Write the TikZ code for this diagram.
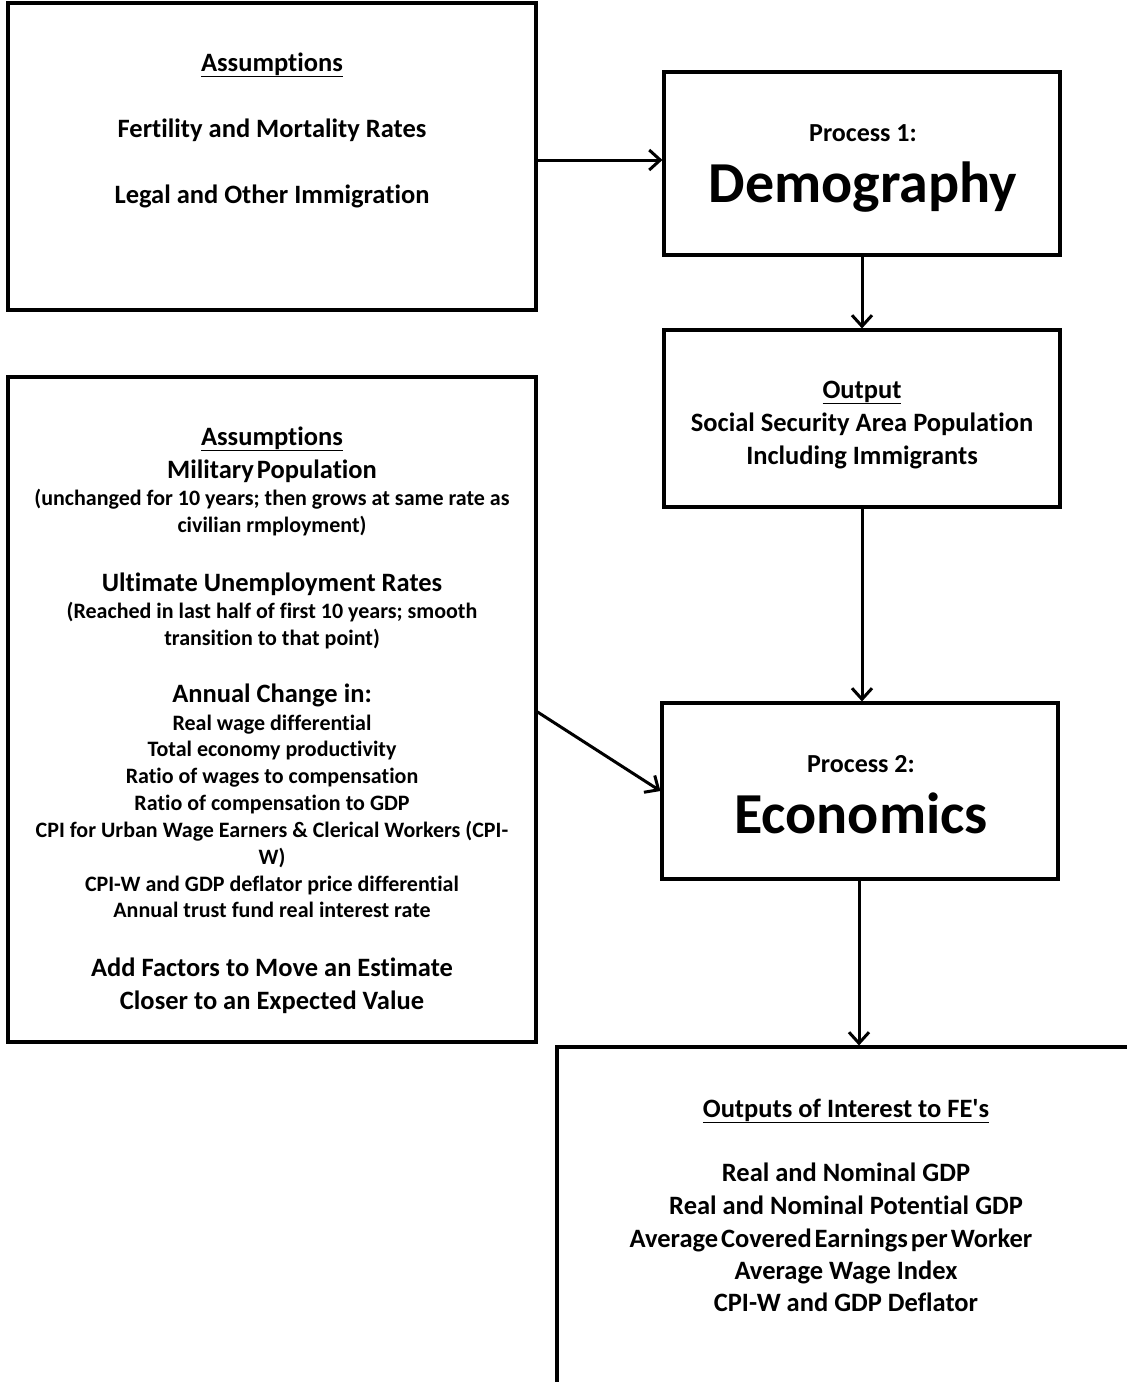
\documentclass[tikz,border=0pt]{standalone}
\usepackage{fontspec}
\setmainfont{Carlito}[Ligatures=NoCommon]
\usetikzlibrary{arrows.meta}
\newcommand{\straightq}{\XeTeXglyph\XeTeXcharglyph"0027\relax}
\begin{document}
\begin{tikzpicture}[x=1pt,y=-1pt,
  box/.style={draw, line width=3.1pt, rectangle, inner sep=0pt},
  conn/.style={line width=3pt, -{Straight Barb[length=11pt,width=20pt,line width=3pt]}},
  big/.style={inner sep=0pt, font=\fontsize{26.5}{32}\selectfont\bfseries, text height=22pt, text depth=4pt},
  small/.style={inner sep=0pt, font=\fontsize{22}{27}\selectfont\bfseries, text height=19pt, text depth=4pt},
  proc/.style={inner sep=0pt, font=\fontsize{26}{30}\selectfont\bfseries, text height=22pt, text depth=4pt},
  huge/.style={inner sep=0pt, font=\fontsize{58}{64}\selectfont\bfseries, text height=46pt, text depth=12pt}]
\useasboundingbox (0,0) rectangle (1127,1382);
\clip (0,0) rectangle (1127,1382);
\fill[white] (0,0) rectangle (1127,1382);

% boxes
\node[box, minimum width=528pt, minimum height=307pt] (boxA) at (272,156.5) {};
\node[box, minimum width=396pt, minimum height=183pt] (p1) at (862,163.5) {};
\node[box, minimum width=396pt, minimum height=177pt] (out) at (862,418.5) {};
\node[box, minimum width=528pt, minimum height=665pt] (boxB) at (272,709.5) {};
\node[box, minimum width=396pt, minimum height=176pt] (p2) at (860,791) {};
\node[box, minimum width=600pt, minimum height=360pt] (bot) at (857,1227) {};

% box A text
\node[big] (a1) at (272,62) {\underline{Assumptions}};
\node[big] (a2) at (272,128) {Fertility and Mortality Rates};
\node[big] (a3) at (272,194) {Legal and Other Immigration};

% process 1
\node[proc] (p1a) at (863,132) {Process 1:};
\node[huge] (p1b) at (863,185) {Demography};

% output
\node[big] (o1) at (862,389) {\underline{Output}};
\node[big] (o2) at (862,422) {Social Security Area Population};
\node[big] (o3) at (862,455) {Including Immigrants};

% box B text
\node[big] (b1) at (272,436) {\underline{Assumptions}};
\node[big] (b2) at (272,469) {\spaceskip=3pt Military Population};
\node[small] (b3) at (272,498) {(unchanged for 10 years; then grows at same rate as};
\node[small] (b4) at (272,525) {civilian rmployment)};
\node[big] (b5) at (272,582) {Ultimate Unemployment Rates};
\node[small] (b6) at (272,611) {(Reached in last half of first 10 years; smooth};
\node[small] (b7) at (272,638) {transition to that point)};
\node[big] (b8) at (272,693) {Annual Change in:};
\node[small] (b9) at (272,723) {Real wage differential};
\node[small] (b10) at (272,749) {Total economy productivity};
\node[small] (b11) at (272,776) {Ratio of wages to compensation};
\node[small] (b12) at (272,803) {Ratio of compensation to GDP};
\node[small] (b13) at (272,830) {CPI for Urban Wage Earners \& Clerical Workers (CPI-};
\node[small] (b14) at (272,857) {W)};
\node[small] (b15) at (272,884) {CPI-W and GDP deflator price differential};
\node[small] (b16) at (272,910) {Annual trust fund real interest rate};
\node[big] (b17) at (272,967) {Add Factors to Move an Estimate};
\node[big] (b18) at (272,1000) {Closer to an Expected Value};

% process 2
\node[proc] (p2a) at (861,763) {Process 2:};
\node[huge] (p2b) at (861,816) {Economics};

% bottom box
\node[big] (c1) at (846,1108) {\underline{Outputs of Interest to FE\straightq s}};
\node[big] (c2) at (846,1172) {Real and Nominal GDP};
\node[big] (c3) at (846,1205) {Real and Nominal Potential GDP};
\node[big] (c4) at (831,1238) {\spaceskip=3pt Average Covered Earnings per Worker};
\node[big] (c5) at (846,1270) {Average Wage Index};
\node[big] (c6) at (846,1302) {CPI-W and GDP Deflator};

% connectors
\draw[conn] (boxA.east |- 0,160) -- (p1.west |- 0,160);
\draw[conn] (p1.south) -- (out.north);
\draw[conn] (out.south) -- (out.south |- p2.north);
\draw[conn] (boxA.east |- 0,712) -- (p2.west);
\draw[conn] (p2.south -| 859,0) -- (bot.north -| 859,0);
\end{tikzpicture}
\end{document}
